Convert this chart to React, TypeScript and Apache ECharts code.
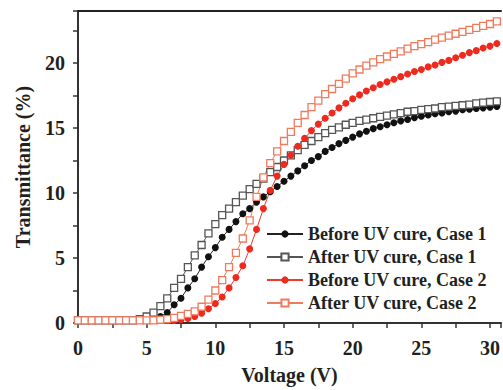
import React, { useEffect, useRef } from "react";
import * as echarts from "echarts";

const voltages: number[] = [];
for (let i = 0; i <= 61; i++) voltages.push(i * 0.5);

const beforeCase1 = [
  0.2, 0.2, 0.2, 0.2, 0.2, 0.2, 0.2, 0.2, 0.2, 0.2, 0.25,
  0.35, 0.5, 0.8, 1.4, 1.9, 2.7, 3.4, 4.3, 5.1, 5.8,
  6.6, 7.2, 7.8, 8.4, 8.8, 9.3, 9.7, 10.1, 10.5, 10.9,
  11.3, 11.7, 12.1, 12.5, 12.8, 13.2, 13.5, 13.8, 14.05, 14.3,
  14.55, 14.75, 14.95, 15.1, 15.25, 15.4, 15.55, 15.65, 15.8, 15.9,
  16.0, 16.1, 16.15, 16.25, 16.3, 16.4, 16.45, 16.5, 16.55, 16.6, 16.65,
];

const afterCase1 = [
  0.2, 0.2, 0.2, 0.2, 0.2, 0.2, 0.2, 0.2, 0.2, 0.3, 0.5,
  0.8, 1.3, 1.9, 2.7, 3.4, 4.3, 5.2, 6.0, 6.9, 7.6,
  8.3, 8.8, 9.3, 9.8, 10.3, 10.7, 11.1, 11.6, 12.0, 12.5,
  12.9, 13.3, 13.7, 14.0, 14.3, 14.6, 14.85, 15.05, 15.25, 15.4,
  15.55, 15.65, 15.75, 15.85, 15.95, 16.05, 16.15, 16.25, 16.3, 16.4,
  16.45, 16.5, 16.6, 16.65, 16.7, 16.75, 16.8, 16.9, 16.95, 17.0, 17.05,
];

const beforeCase2 = [
  0.2, 0.2, 0.2, 0.2, 0.2, 0.2, 0.2, 0.2, 0.2, 0.2, 0.2,
  0.2, 0.2, 0.2, 0.2, 0.25, 0.35, 0.5, 0.75, 1.1, 1.5,
  2.0, 2.7, 3.5, 4.4, 5.7, 7.2, 8.8, 10.2, 11.3, 12.2,
  12.9, 13.6, 14.2, 14.8, 15.3, 15.75, 16.15, 16.55, 16.9, 17.25,
  17.55, 17.85, 18.1, 18.35, 18.55, 18.75, 18.95, 19.15, 19.35, 19.5,
  19.7, 19.85, 20.05, 20.2, 20.4, 20.6, 20.8, 20.95, 21.15, 21.3, 21.5,
];

const afterCase2 = [
  0.2, 0.2, 0.2, 0.2, 0.2, 0.2, 0.2, 0.2, 0.2, 0.2, 0.2,
  0.2, 0.25, 0.3, 0.4, 0.55, 0.7, 0.9, 1.25, 1.8, 2.5,
  3.3, 4.3, 5.4, 6.5, 7.9, 9.7, 11.2, 12.3, 13.2, 14.0,
  14.7, 15.4, 16.0, 16.6, 17.1, 17.6, 18.0, 18.4, 18.8, 19.2,
  19.5, 19.8, 20.05, 20.3, 20.5, 20.7, 20.9, 21.1, 21.3, 21.45,
  21.6, 21.8, 21.95, 22.1, 22.25, 22.4, 22.55, 22.7, 22.85, 23.0, 23.2,
];

const seriesNames = [
  "Before UV cure, Case 1",
  "After UV cure, Case 1",
  "Before UV cure, Case 2",
  "After UV cure, Case 2",
];

const FONT = "'Liberation Serif', 'Times New Roman', serif";
const TXT = "#231f20";

export default function App() {
  const ref = useRef<HTMLDivElement>(null);
  useEffect(() => {
    if (!ref.current) return;
    const chart = echarts.init(ref.current, undefined, { renderer: "svg" });
    const pair = (arr: number[]) => voltages.map((v, i) => [v, arr[i]]);
    const mk = (
      name: string,
      data: number[],
      symbol: string,
      size: number,
      lineColor: string,
      fill: string,
      border: string,
      bw: number
    ) => ({
      name,
      type: "line",
      data: pair(data),
      symbol,
      symbolSize: size,
      showAllSymbol: true,
      lineStyle: { color: lineColor, width: 1 },
      itemStyle: { color: fill, borderColor: border, borderWidth: bw },
      emphasis: { disabled: true },
      clip: true,
    });
    chart.setOption({
      animation: false,
      grid: { left: 78, top: 11, right: 0, bottom: 65 },
      legend: {
        orient: "vertical",
        left: 266,
        top: 225,
        padding: 0,
        itemWidth: 36,
        itemHeight: 9,
        itemGap: 5,
        textStyle: {
          fontFamily: FONT,
          fontWeight: "bold",
          fontSize: 18,
          color: TXT,
        },
        data: seriesNames,
      },
      xAxis: [
        {
          type: "value",
          min: 0,
          max: 30.8,
          interval: 5,
          name: "Voltage (V)",
          nameLocation: "middle",
          nameGap: 42,
          nameTextStyle: {
            fontFamily: FONT,
            fontWeight: "bold",
            fontSize: 20,
            color: TXT,
          },
          axisLine: { lineStyle: { color: "#333", width: 2 } },
          axisTick: { length: 5, lineStyle: { color: "#333", width: 1.5 } },
          minorTick: {
            show: true,
            splitNumber: 2,
            length: 5,
            lineStyle: { color: "#333", width: 1.5 },
          },
          axisLabel: {
            margin: 15,
            fontFamily: FONT,
            fontWeight: "bold",
            fontSize: 20,
            color: TXT,
            showMaxLabel: false,
            formatter: (v: number) => (v % 5 === 0 ? String(v) : ""),
          },
          splitLine: { show: false },
        },
        {
          type: "value",
          position: "top",
          min: 0,
          max: 30.8,
          axisLine: { show: true, onZero: false, lineStyle: { color: "#222", width: 2 } },
          axisTick: { show: false },
          axisLabel: { show: false },
          splitLine: { show: false },
        },
      ],
      yAxis: {
        type: "value",
        min: 0,
        max: 24,
        interval: 5,
        name: "Transmittance (%)",
        nameLocation: "middle",
        nameGap: 45,
        nameTextStyle: {
          fontFamily: FONT,
          fontWeight: "bold",
          fontSize: 20,
          color: TXT,
        },
        axisLine: { show: true, lineStyle: { color: "#333", width: 2 } },
        axisTick: { show: true, length: 5, lineStyle: { color: "#333", width: 1.5 } },
        minorTick: {
          show: true,
          splitNumber: 2,
          length: 5,
          lineStyle: { color: "#333", width: 1.5 },
        },
        axisLabel: {
          margin: 13,
          fontFamily: FONT,
          fontWeight: "bold",
          fontSize: 20,
          color: TXT,
          showMaxLabel: false,
          formatter: (v: number) => (v % 5 === 0 ? String(v) : ""),
        },
        splitLine: { show: false },
      },
      series: [
        mk(seriesNames[0], beforeCase1, "circle", 7, "#222", "#111", "#111", 0),
        mk(seriesNames[1], afterCase1, "rect", 7, "#555", "#fff", "#555", 1.3),
        mk(seriesNames[2], beforeCase2, "circle", 7, "#ee3a2a", "#ee2a1e", "#ee2a1e", 0),
        mk(seriesNames[3], afterCase2, "rect", 7, "#f27a5c", "#fff", "#f27a5c", 1.3),
      ],
    });
    return () => chart.dispose();
  }, []);
  return <div ref={ref} style={{ width: 503, height: 390, position: "absolute", left: 0, top: 0 }} />;
}
